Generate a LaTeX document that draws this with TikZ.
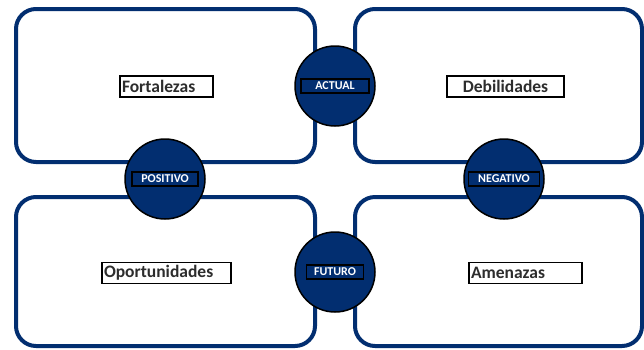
\documentclass[tikz,border=0pt]{standalone}
\usepackage{fontspec}
\setmainfont{Carlito}
\begin{document}
\begin{tikzpicture}[x=1pt,y=-1pt,
  quad/.style={draw=swotblue,line width=4pt,rounded corners=20pt,fill=white},
  hub/.style={circle,draw=black,line width=1.5pt,fill=swotblue,minimum size=80pt,inner sep=0pt},
  tag/.style={draw=black,line width=1.5pt,fill=swotblue,text=white,font=\bfseries\fontsize{12}{12}\selectfont,inner sep=0pt,minimum height=14pt},
  lbl/.style={draw=black,line width=1.2pt,fill=white,text=textgray,font=\bfseries\fontsize{17.5}{18}\selectfont,inner sep=0pt,minimum height=21pt}
]
\definecolor{swotblue}{RGB}{2,46,112}
\definecolor{textgray}{RGB}{45,45,45}
\useasboundingbox (0,0) rectangle (644,349);
\fill[white] (0,0) rectangle (644,349);
% quadrants
\draw[quad] (16,9) rectangle (315,162);
\draw[quad] (355,9) rectangle (642,162);
\draw[quad] (16,197) rectangle (315,346);
\draw[quad] (355,197) rectangle (642,346);
% labels
\node[lbl,minimum width=93pt,text width=91pt,align=left] (fo) at (166.5,86.5) {\hspace*{1pt}\raisebox{-1.5pt}{Fortalezas}};
\node[lbl,minimum width=117pt] (de) at (505.5,86.5) {\raisebox{-1.5pt}{Debilidades}};
\node[lbl,minimum width=129pt,text width=127pt,align=left] (op) at (166.5,273) {\hspace*{1pt}\raisebox{-1.5pt}{Oportunidades}};
\node[lbl,minimum width=113pt,text width=111pt,align=left] (am) at (525.5,273) {\hspace*{1pt}\raisebox{-1.5pt}{Amenazas}};
% hubs
\node[hub] (ac) at (335,86) {};
\node[hub] (po) at (165,179) {};
\node[hub] (ne) at (504,179) {};
\node[hub] (fu) at (335,272) {};
\node[tag,minimum width=68pt] (tac) at (ac) {ACTUAL};
\node[tag,minimum width=66pt] (tpo) at (po) {POSITIVO};
\node[tag,minimum width=71pt] (tne) at (ne) {NEGATIVO};
\node[tag,minimum width=57pt] (tfu) at (fu) {FUTURO};
\end{tikzpicture}
\end{document}
